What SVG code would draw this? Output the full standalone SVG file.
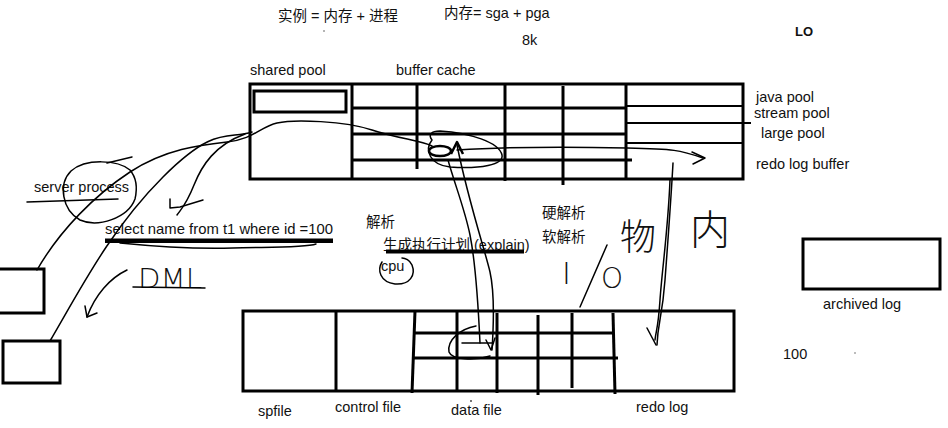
<svg xmlns="http://www.w3.org/2000/svg" width="948" height="428" viewBox="0 0 948 428">
<style>
.t{font-family:"Liberation Sans","Noto Sans CJK SC",sans-serif;font-size:14.5px;fill:#111}
.hw{font-family:"DejaVu Sans","Noto Sans CJK SC",sans-serif;font-weight:200;fill:#111}
.box{fill:none;stroke:#000;stroke-width:3}
.grid{fill:none;stroke:#000;stroke-width:3;stroke-linecap:butt}
.thin{fill:none;stroke:#000;stroke-width:2}
.sk{fill:none;stroke:#000;stroke-width:1.5;stroke-linecap:round;stroke-linejoin:round}
</style>
<rect width="948" height="428" fill="#fff"/>

<g id="titles">
<text class="t" x="278" y="21">实例 = 内存 + 进程</text>
<text class="t" x="444" y="18">内存= sga + pga</text>
<text class="t" x="522" y="45">8k</text>
<text x="795" y="36" font-family="Liberation Sans, sans-serif" font-size="13" font-weight="bold" fill="#111">LO</text>
<circle cx="324" cy="31" r="0.8" fill="#555"/>
</g>

<g id="sga">
<rect class="box" x="250" y="84" width="493" height="95"/>
<rect class="box" x="254" y="91" width="92" height="21"/>
<line class="grid" x1="352" y1="84" x2="352" y2="179"/>
<line class="grid" x1="417" y1="84" x2="417" y2="169"/>
<line class="grid" x1="505" y1="84" x2="505" y2="181"/>
<line class="grid" x1="563" y1="86" x2="563" y2="185"/>
<line class="grid" x1="626" y1="84" x2="626" y2="179"/>
<line class="grid" x1="353" y1="108" x2="626" y2="108"/>
<line class="grid" x1="353" y1="134" x2="626" y2="134"/>
<line class="grid" x1="353" y1="160" x2="632" y2="160"/>
<line class="thin" x1="627" y1="106" x2="743" y2="106"/>
<line class="thin" x1="627" y1="123" x2="751" y2="123"/>
<line class="thin" x1="627" y1="143" x2="743" y2="143"/>
<text class="t" x="250" y="75">shared pool</text>
<text class="t" x="396" y="75">buffer cache</text>
<text class="t" x="756" y="102">java pool</text>
<text class="t" x="754" y="118">stream pool</text>
<text class="t" x="761" y="138">large pool</text>
<text class="t" x="756" y="169">redo log buffer</text>
</g>

<g id="server-process">
<text class="t" x="34" y="192">server process</text>
<path class="sk" d="M130,170 C118,160 86,158 71,171 C58,184 62,210 80,220 C98,228 128,218 135,199 C138,186 135,176 130,170"/>
<path class="sk" d="M107,163 L132,157"/>
<path class="sk" d="M27,202 L118,199"/>
</g>

<g id="client1"><rect class="box" x="-2" y="269" width="46" height="44"/></g>
<g id="client2"><rect class="box" x="3" y="341" width="57" height="42"/></g>

<g id="sql">
<text class="t" x="105" y="234" textLength="228" lengthAdjust="spacingAndGlyphs">select name from t1 where id =100</text>
<rect x="105" y="238.5" width="228" height="4.5" fill="#000"/>
<path class="sk" d="M120,243 C160,247 200,249 233,248 S305,248 316,244"/>
<text class="hw" x="138" y="288" font-size="26" textLength="64" lengthAdjust="spacingAndGlyphs">DML</text>
<path class="sk" d="M133,287 L205,288"/>
</g>

<g id="parse">
<text class="t" x="366" y="227">解析</text>
<text class="t" x="542" y="218">硬解析</text>
<text class="t" x="542" y="242">软解析</text>
<text class="t" x="383" y="250">生成执行计划 (explain)</text>
<line x1="386" y1="251.5" x2="524" y2="251.5" stroke="#000" stroke-width="4"/>
<text class="t" x="381" y="271">cpu</text>
<path class="sk" d="M382,262 C377,270 380,282 395,284 C410,285 416,275 412,265 C410,260 405,258 402,258"/>
</g>

<g id="io-notes">
<text class="hw" x="562" y="284" font-size="30">I</text>
<path class="sk" d="M607,245 L580,307"/>
<text class="hw" x="601" y="288" font-size="28">O</text>
<text class="hw" x="620" y="250" font-size="36">物</text>
<text class="hw" x="690" y="244" font-size="40">内</text>
</g>

<g id="disk">
<rect class="box" x="243" y="311" width="491" height="80"/>
<line class="grid" x1="336" y1="311" x2="336" y2="391"/>
<line class="grid" x1="415" y1="311" x2="412" y2="393"/>
<line class="grid" x1="457" y1="311" x2="457" y2="391"/>
<line class="grid" x1="497" y1="313" x2="497" y2="393"/>
<line class="grid" x1="538" y1="315" x2="538" y2="395"/>
<line class="grid" x1="572" y1="313" x2="572" y2="388"/>
<line class="grid" x1="613" y1="313" x2="615" y2="394"/>
<line class="grid" x1="415" y1="333" x2="613" y2="333"/>
<line class="grid" x1="412" y1="358" x2="618" y2="358"/>
<text class="t" x="258" y="416">spfile</text>
<text class="t" x="335" y="412">control file</text>
<text class="t" x="451" y="415">data file</text>
<circle cx="471" cy="401" r="0.9" fill="#333"/>
<text class="t" x="636" y="412">redo log</text>
</g>

<g id="archived-log">
<rect class="box" x="803" y="239" width="137" height="50"/>
<text class="t" x="823" y="309">archived log</text>
<text class="t" x="783" y="359">100</text>
<circle cx="855" cy="353" r="0.8" fill="#666"/>
</g>

<g id="connectors">
<path class="sk" d="M37,270 C60,230 95,195 130,172 S200,145 227,142 S260,127 277,123 S345,121 372,130 S420,140 432,146"/>
<path class="sk" d="M50,341 C80,290 110,230 163,177 S228,140 252,132"/>
<path class="sk" d="M245,134 C215,145 202,165 194,185 S182,208 177,215"/>
<path class="sk" d="M170,199 L170,208 L180,207 L203,200"/>
<path class="sk" d="M127,270 C110,278 95,295 87,317"/>
<path class="sk" d="M85,306 L87,317 L97,313"/>
<path class="sk" d="M432,140 C424,150 430,165 450,167 C480,169 504,165 502,155 C499,142 470,133 440,131 C431,131 428,135 432,140"/>
<ellipse cx="440" cy="151" rx="11" ry="5" fill="none" stroke="#000" stroke-width="2.5"/>
<path class="sk" d="M457,150 C520,146 580,147 627,148 S680,150 703,158"/>
<path class="sk" d="M692,152 L705,158 L693,164"/>
<path class="sk" d="M448,160 C455,185 465,210 470,235 S478,300 480,343"/>
<path class="sk" d="M492,350 C494,320 494,290 490,272 S468,200 457,145"/>
<path d="M451,154 L457,142 L463,154" fill="none" stroke="#000" stroke-width="2.5" stroke-linejoin="round"/>
<path class="sk" d="M462,343 L493,343"/>
<path class="sk" d="M486,340 L491,350 L495,338"/>
<path class="sk" d="M476,326 C460,329 447,340 449,352 C452,360 475,361 490,356"/>
<path class="sk" d="M673,163 C671,200 668,240 665,280 S658,320 657,345"/>
<path class="sk" d="M670,180 C668,230 662,270 660,300 S656,330 655,340"/>
<path class="sk" d="M647,328 L656,345"/>
</g>
</svg>
